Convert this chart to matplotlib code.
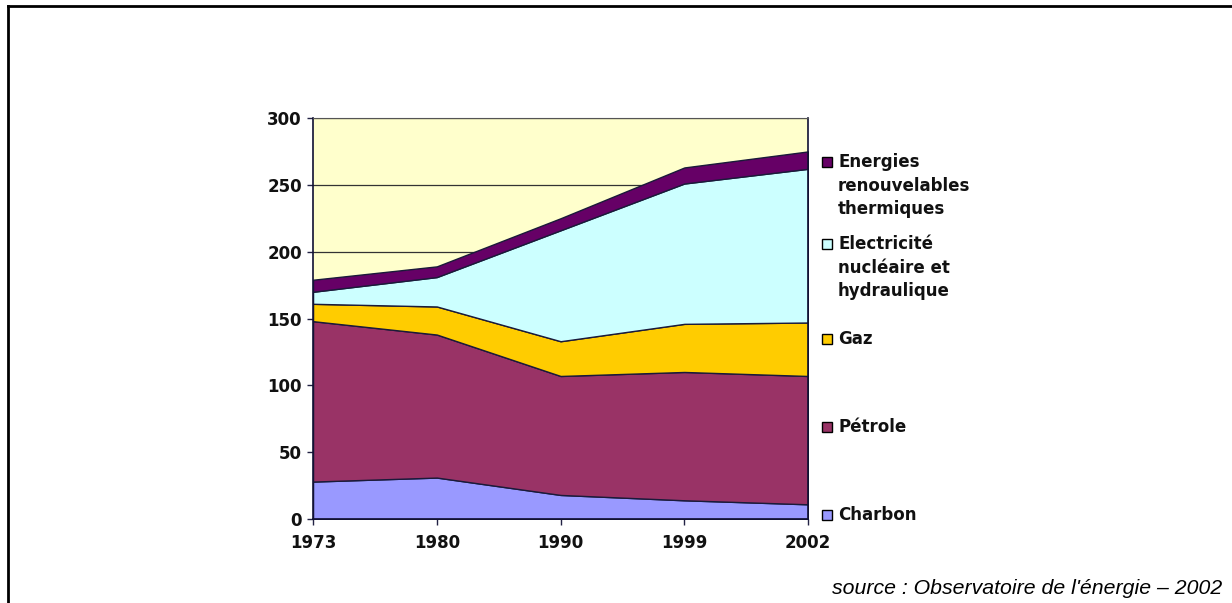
import numpy as np
import matplotlib.pyplot as plt
from matplotlib.lines import Line2D
from matplotlib.patches import Rectangle

# Consommation d'énergie primaire par source (Mtep)
annees = ["1973", "1980", "1990", "1999", "2002"]
charbon = [28, 31, 18, 14, 11]
petrole = [120, 107, 89, 96, 96]
gaz = [13, 21, 26, 36, 40]
electricite = [9, 22, 83, 105, 115]
renouvelables = [9, 8, 9, 12, 13]

noms = ["Charbon", "Pétrole", "Gaz",
        "Electricité\nnucléaire et\nhydraulique",
        "Energies\nrenouvelables\nthermiques"]
couleurs = ["#9999ff", "#993366", "#ffcc00", "#ccffff", "#660066"]

fig = plt.figure(figsize=(12.32, 6.03), dpi=100)
ax = fig.add_axes([0.2541, 0.1393, 0.4018, 0.665])
ax.set_facecolor("#ffffcc")

x = np.arange(len(annees))
ax.stackplot(x, charbon, petrole, gaz, electricite, renouvelables,
             colors=couleurs, edgecolor="#1a1a3a", linewidth=1.0, zorder=2)

ax.set_xlim(0, len(annees) - 1)
ax.set_ylim(0, 300)
ax.set_yticks(range(0, 301, 50))
ax.set_xticks(x)
ax.set_xticklabels(annees)
ax.yaxis.grid(True, color="#333333", linewidth=0.9, zorder=1)
ax.set_axisbelow(True)

for lab in ax.get_xticklabels() + ax.get_yticklabels():
    lab.set_fontweight("bold")
    lab.set_fontsize(12)
    lab.set_color("#111111")
ax.tick_params(axis="both", length=4, width=1, color="#222244")
ax.tick_params(axis="y", pad=4)
ax.tick_params(axis="x", pad=7)

ax.spines["top"].set_color("#555555")
for s in ["left", "bottom", "right"]:
    ax.spines[s].set_color("#111133")
    ax.spines[s].set_linewidth(1.2)

# légende à droite, une entrée par source
legende_y = [515, 427, 339, 244, 162]
for nom, couleur, ypix in zip(noms, couleurs, legende_y):
    yf = 1 - ypix / 603
    fig.add_artist(Rectangle((822 / 1232, yf - 5 / 603), 10 / 1232, 10 / 603,
                             facecolor=couleur, edgecolor="black",
                             linewidth=1, transform=fig.transFigure))
    fig.text(838 / 1232, yf + 9 / 603, nom, fontsize=12, fontweight="bold",
             va="top", ha="left", linespacing=1.4, color="#111111")

fig.text(1222 / 1232, 1 - 588 / 603, "source : Observatoire de l'énergie – 2002",
         fontsize=15.3, style="italic", family="Liberation Sans",
         ha="right", va="center")

# cadre gauche et haut
fig.add_artist(Line2D([7.5 / 1232, 7.5 / 1232], [0, 1 - 5.5 / 603],
                      color="black", linewidth=2, transform=fig.transFigure))
fig.add_artist(Line2D([7.5 / 1232, 1], [1 - 5.5 / 603, 1 - 5.5 / 603],
                      color="black", linewidth=2, transform=fig.transFigure))

fig.savefig("out.png", dpi=100)
